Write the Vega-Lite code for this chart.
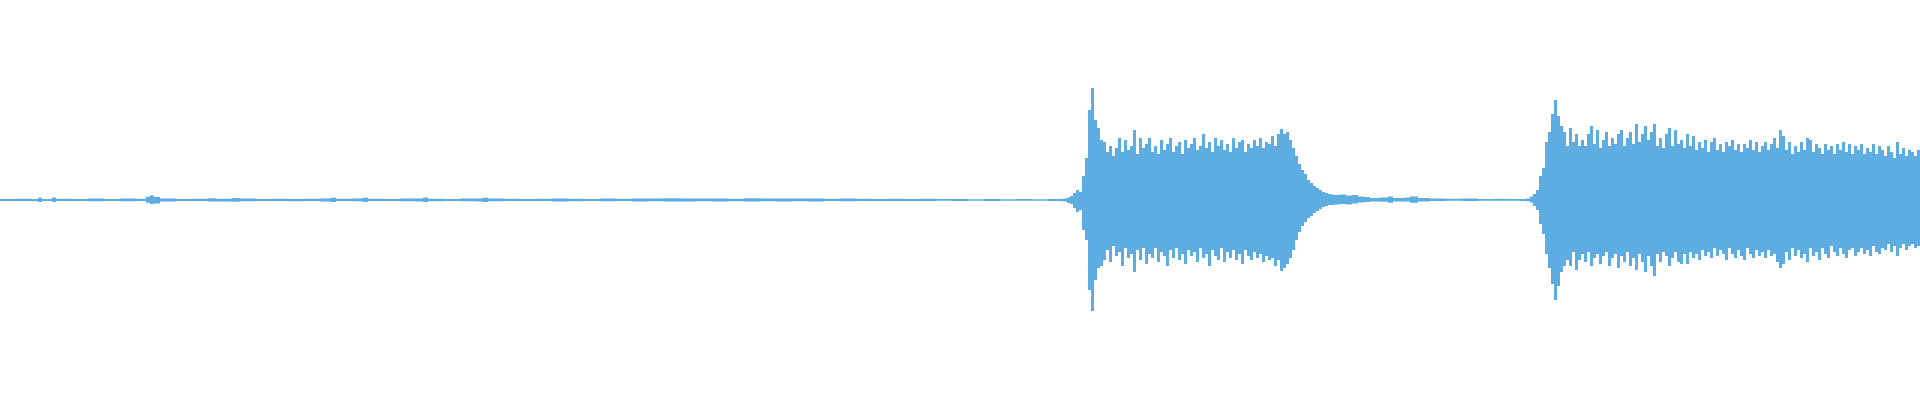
{
  "$schema": "https://vega.github.io/schema/vega-lite/v6.json",
  "autosize": {"type": "fit", "contains": "padding"},
  "width": 1920,
  "height": 400,
  "padding": 0,
  "background": "white",
  "config": {"view": {"stroke": null}},
  "data": {"values": [
    {"t":0,"h":0.005,"l":-0.005},{"t":16,"h":0.006,"l":-0.005},{"t":32,"h":0.005,"l":-0.006},{"t":38,"h":0.011,"l":-0.01},{"t":42,"h":0.005,"l":-0.005},{"t":52,"h":0.012,"l":-0.01},{"t":56,"h":0.006,"l":-0.005},{"t":72,"h":0.005,"l":-0.005},{"t":88,"h":0.007,"l":-0.006},{"t":104,"h":0.005,"l":-0.005},{"t":120,"h":0.007,"l":-0.006},{"t":136,"h":0.006,"l":-0.005},{"t":146,"h":0.016,"l":-0.014},{"t":150,"h":0.022,"l":-0.02},{"t":154,"h":0.015,"l":-0.018},{"t":160,"h":0.008,"l":-0.007},{"t":176,"h":0.005,"l":-0.005},{"t":192,"h":0.006,"l":-0.005},{"t":208,"h":0.009,"l":-0.008},{"t":216,"h":0.006,"l":-0.007},{"t":232,"h":0.01,"l":-0.009},{"t":240,"h":0.007,"l":-0.006},{"t":256,"h":0.005,"l":-0.005},{"t":272,"h":0.006,"l":-0.005},{"t":288,"h":0.005,"l":-0.006},{"t":304,"h":0.006,"l":-0.005},{"t":320,"h":0.008,"l":-0.007},{"t":330,"h":0.011,"l":-0.01},{"t":336,"h":0.006,"l":-0.005},{"t":352,"h":0.007,"l":-0.006},{"t":362,"h":0.011,"l":-0.01},{"t":368,"h":0.006,"l":-0.005},{"t":384,"h":0.005,"l":-0.005},{"t":400,"h":0.007,"l":-0.006},{"t":416,"h":0.008,"l":-0.007},{"t":423,"h":0.012,"l":-0.01},{"t":428,"h":0.006,"l":-0.006},{"t":444,"h":0.005,"l":-0.005},{"t":460,"h":0.007,"l":-0.006},{"t":476,"h":0.008,"l":-0.007},{"t":482,"h":0.011,"l":-0.01},{"t":488,"h":0.007,"l":-0.006},{"t":504,"h":0.006,"l":-0.005},{"t":520,"h":0.005,"l":-0.005},{"t":536,"h":0.006,"l":-0.005},{"t":552,"h":0.008,"l":-0.007},{"t":568,"h":0.006,"l":-0.006},{"t":584,"h":0.005,"l":-0.005},{"t":600,"h":0.007,"l":-0.006},{"t":616,"h":0.006,"l":-0.005},{"t":632,"h":0.008,"l":-0.007},{"t":648,"h":0.007,"l":-0.006},{"t":664,"h":0.009,"l":-0.007},{"t":680,"h":0.008,"l":-0.007},{"t":696,"h":0.007,"l":-0.006},{"t":712,"h":0.008,"l":-0.007},{"t":728,"h":0.006,"l":-0.006},{"t":744,"h":0.009,"l":-0.008},{"t":760,"h":0.007,"l":-0.006},{"t":776,"h":0.008,"l":-0.007},{"t":792,"h":0.007,"l":-0.006},{"t":808,"h":0.008,"l":-0.007},{"t":824,"h":0.006,"l":-0.005},{"t":840,"h":0.007,"l":-0.006},{"t":856,"h":0.006,"l":-0.005},{"t":872,"h":0.005,"l":-0.005},{"t":888,"h":0.006,"l":-0.005},{"t":904,"h":0.005,"l":-0.005},{"t":920,"h":0.006,"l":-0.005},{"t":936,"h":0.005,"l":-0.004},{"t":952,"h":0.005,"l":-0.005},{"t":968,"h":0.004,"l":-0.004},{"t":984,"h":0.005,"l":-0.005},{"t":1000,"h":0.004,"l":-0.004},{"t":1016,"h":0.005,"l":-0.004},{"t":1032,"h":0.004,"l":-0.004},{"t":1048,"h":0.005,"l":-0.005},{"t":1060,"h":0.006,"l":-0.006},
    {"t":1064,"h":0.008,"l":-0.007},{"t":1067,"h":0.012,"l":-0.015},{"t":1070,"h":0.02,"l":-0.02},{"t":1073,"h":0.035,"l":-0.04},{"t":1076,"h":0.05,"l":-0.06},{"t":1079,"h":0.04,"l":-0.05},{"t":1082,"h":0.12,"l":-0.15},{"t":1085,"h":0.21,"l":-0.2},{"t":1088,"h":0.45,"l":-0.45},{"t":1091,"h":0.56,"l":-0.555},{"t":1094,"h":0.4,"l":-0.4},{"t":1097,"h":0.36,"l":-0.34},{"t":1100,"h":0.3,"l":-0.33},
    {"t":1103,"h":0.29,"l":-0.3},{"t":1106,"h":0.24,"l":-0.25},{"t":1109,"h":0.27,"l":-0.31},{"t":1112,"h":0.22,"l":-0.23},{"t":1115,"h":0.26,"l":-0.28},{"t":1118,"h":0.31,"l":-0.26},{"t":1121,"h":0.24,"l":-0.33},{"t":1124,"h":0.3,"l":-0.24},{"t":1127,"h":0.25,"l":-0.29},{"t":1130,"h":0.27,"l":-0.27},{"t":1133,"h":0.35,"l":-0.36},{"t":1136,"h":0.23,"l":-0.25},{"t":1139,"h":0.31,"l":-0.3},{"t":1142,"h":0.26,"l":-0.24},{"t":1145,"h":0.28,"l":-0.32},{"t":1148,"h":0.31,"l":-0.27},{"t":1151,"h":0.24,"l":-0.29},{"t":1154,"h":0.27,"l":-0.24},{"t":1157,"h":0.23,"l":-0.31},{"t":1160,"h":0.3,"l":-0.26},{"t":1163,"h":0.25,"l":-0.28},{"t":1166,"h":0.28,"l":-0.33},{"t":1169,"h":0.31,"l":-0.25},{"t":1172,"h":0.24,"l":-0.29},{"t":1175,"h":0.27,"l":-0.24},{"t":1178,"h":0.29,"l":-0.3},{"t":1181,"h":0.23,"l":-0.27},{"t":1184,"h":0.3,"l":-0.32},{"t":1187,"h":0.26,"l":-0.25},{"t":1190,"h":0.28,"l":-0.28},{"t":1193,"h":0.31,"l":-0.26},{"t":1196,"h":0.25,"l":-0.31},{"t":1199,"h":0.27,"l":-0.24},{"t":1202,"h":0.33,"l":-0.29},{"t":1205,"h":0.26,"l":-0.27},{"t":1208,"h":0.29,"l":-0.33},{"t":1211,"h":0.24,"l":-0.25},{"t":1214,"h":0.31,"l":-0.28},{"t":1217,"h":0.27,"l":-0.3},{"t":1220,"h":0.3,"l":-0.24},{"t":1223,"h":0.25,"l":-0.31},{"t":1226,"h":0.28,"l":-0.26},{"t":1229,"h":0.24,"l":-0.29},{"t":1232,"h":0.31,"l":-0.25},{"t":1235,"h":0.26,"l":-0.3},{"t":1238,"h":0.29,"l":-0.27},{"t":1241,"h":0.3,"l":-0.32},{"t":1244,"h":0.24,"l":-0.25},{"t":1247,"h":0.28,"l":-0.28},{"t":1250,"h":0.26,"l":-0.3},{"t":1253,"h":0.3,"l":-0.26},{"t":1256,"h":0.27,"l":-0.29},{"t":1259,"h":0.31,"l":-0.27},{"t":1262,"h":0.26,"l":-0.31},{"t":1265,"h":0.29,"l":-0.28},{"t":1268,"h":0.28,"l":-0.3},{"t":1271,"h":0.32,"l":-0.29},{"t":1274,"h":0.27,"l":-0.33},{"t":1277,"h":0.33,"l":-0.3},
    {"t":1280,"h":0.355,"l":-0.355},{"t":1283,"h":0.33,"l":-0.34},{"t":1286,"h":0.34,"l":-0.32},{"t":1289,"h":0.3,"l":-0.29},{"t":1292,"h":0.26,"l":-0.25},{"t":1295,"h":0.22,"l":-0.2},{"t":1298,"h":0.18,"l":-0.16},{"t":1301,"h":0.15,"l":-0.13},{"t":1304,"h":0.13,"l":-0.11},{"t":1307,"h":0.1,"l":-0.09},{"t":1310,"h":0.085,"l":-0.08},{"t":1313,"h":0.07,"l":-0.065},{"t":1316,"h":0.06,"l":-0.055},{"t":1319,"h":0.05,"l":-0.045},{"t":1322,"h":0.04,"l":-0.035},{"t":1325,"h":0.035,"l":-0.03},{"t":1328,"h":0.03,"l":-0.025},{"t":1331,"h":0.028,"l":-0.025},{"t":1334,"h":0.025,"l":-0.022},{"t":1340,"h":0.028,"l":-0.02},{"t":1346,"h":0.022,"l":-0.022},{"t":1352,"h":0.025,"l":-0.018},{"t":1358,"h":0.017,"l":-0.012},{"t":1364,"h":0.015,"l":-0.01},{"t":1370,"h":0.01,"l":-0.008},{"t":1380,"h":0.012,"l":-0.009},{"t":1388,"h":0.018,"l":-0.014},{"t":1393,"h":0.01,"l":-0.008},{"t":1405,"h":0.012,"l":-0.008},{"t":1410,"h":0.018,"l":-0.014},{"t":1418,"h":0.01,"l":-0.008},{"t":1430,"h":0.007,"l":-0.005},{"t":1446,"h":0.006,"l":-0.004},{"t":1462,"h":0.007,"l":-0.005},{"t":1478,"h":0.005,"l":-0.004},{"t":1494,"h":0.006,"l":-0.004},{"t":1510,"h":0.005,"l":-0.004},{"t":1520,"h":0.005,"l":-0.005},{"t":1526,"h":0.008,"l":-0.006},
    {"t":1530,"h":0.017,"l":-0.012},{"t":1533,"h":0.03,"l":-0.03},{"t":1536,"h":0.05,"l":-0.05},{"t":1539,"h":0.12,"l":-0.12},{"t":1542,"h":0.16,"l":-0.17},{"t":1545,"h":0.29,"l":-0.27},{"t":1548,"h":0.34,"l":-0.34},{"t":1551,"h":0.43,"l":-0.42},{"t":1554,"h":0.5,"l":-0.5},{"t":1557,"h":0.42,"l":-0.43},{"t":1560,"h":0.37,"l":-0.36},{"t":1563,"h":0.34,"l":-0.33},{"t":1566,"h":0.27,"l":-0.3},{"t":1569,"h":0.36,"l":-0.33},{"t":1572,"h":0.29,"l":-0.26},{"t":1575,"h":0.33,"l":-0.35},{"t":1578,"h":0.27,"l":-0.3},
    {"t":1581,"h":0.3,"l":-0.27},{"t":1584,"h":0.27,"l":-0.31},{"t":1587,"h":0.33,"l":-0.26},{"t":1590,"h":0.37,"l":-0.33},{"t":1593,"h":0.28,"l":-0.29},{"t":1596,"h":0.35,"l":-0.27},{"t":1599,"h":0.26,"l":-0.32},{"t":1602,"h":0.3,"l":-0.28},{"t":1605,"h":0.34,"l":-0.26},{"t":1608,"h":0.27,"l":-0.33},{"t":1611,"h":0.31,"l":-0.29},{"t":1614,"h":0.28,"l":-0.27},{"t":1617,"h":0.33,"l":-0.34},{"t":1620,"h":0.35,"l":-0.28},{"t":1623,"h":0.27,"l":-0.31},{"t":1626,"h":0.31,"l":-0.26},{"t":1629,"h":0.34,"l":-0.33},{"t":1632,"h":0.28,"l":-0.29},{"t":1635,"h":0.38,"l":-0.35},{"t":1638,"h":0.29,"l":-0.27},{"t":1641,"h":0.33,"l":-0.31},{"t":1644,"h":0.37,"l":-0.36},{"t":1647,"h":0.3,"l":-0.28},{"t":1650,"h":0.34,"l":-0.33},{"t":1653,"h":0.38,"l":-0.38},{"t":1656,"h":0.27,"l":-0.27},{"t":1659,"h":0.31,"l":-0.31},{"t":1662,"h":0.26,"l":-0.26},{"t":1665,"h":0.33,"l":-0.28},{"t":1668,"h":0.36,"l":-0.33},{"t":1671,"h":0.27,"l":-0.29},{"t":1674,"h":0.35,"l":-0.26},{"t":1677,"h":0.28,"l":-0.31},{"t":1680,"h":0.3,"l":-0.32},{"t":1683,"h":0.26,"l":-0.27},{"t":1686,"h":0.33,"l":-0.32},{"t":1689,"h":0.27,"l":-0.26},{"t":1692,"h":0.32,"l":-0.29},{"t":1695,"h":0.25,"l":-0.27},{"t":1698,"h":0.29,"l":-0.3},{"t":1701,"h":0.26,"l":-0.25},{"t":1704,"h":0.3,"l":-0.28},{"t":1707,"h":0.24,"l":-0.26},{"t":1710,"h":0.29,"l":-0.29},{"t":1713,"h":0.31,"l":-0.24},{"t":1716,"h":0.25,"l":-0.28},{"t":1719,"h":0.28,"l":-0.25},{"t":1722,"h":0.24,"l":-0.27},{"t":1725,"h":0.29,"l":-0.3},{"t":1728,"h":0.27,"l":-0.24},{"t":1731,"h":0.3,"l":-0.27},{"t":1734,"h":0.25,"l":-0.29},{"t":1737,"h":0.28,"l":-0.25},{"t":1740,"h":0.24,"l":-0.28},{"t":1743,"h":0.28,"l":-0.3},{"t":1746,"h":0.26,"l":-0.24},{"t":1749,"h":0.3,"l":-0.27},{"t":1752,"h":0.25,"l":-0.29},{"t":1755,"h":0.29,"l":-0.25},{"t":1758,"h":0.24,"l":-0.28},{"t":1761,"h":0.27,"l":-0.26},{"t":1764,"h":0.29,"l":-0.29},{"t":1767,"h":0.25,"l":-0.25},{"t":1770,"h":0.28,"l":-0.28},{"t":1773,"h":0.31,"l":-0.27},{"t":1776,"h":0.26,"l":-0.31},{"t":1779,"h":0.35,"l":-0.34},{"t":1782,"h":0.32,"l":-0.32},{"t":1785,"h":0.25,"l":-0.26},{"t":1788,"h":0.29,"l":-0.3},{"t":1791,"h":0.23,"l":-0.24},{"t":1794,"h":0.27,"l":-0.28},{"t":1797,"h":0.24,"l":-0.25},{"t":1800,"h":0.29,"l":-0.29},{"t":1803,"h":0.25,"l":-0.27},{"t":1806,"h":0.31,"l":-0.31},{"t":1809,"h":0.3,"l":-0.24},{"t":1812,"h":0.24,"l":-0.28},{"t":1815,"h":0.28,"l":-0.26},{"t":1818,"h":0.26,"l":-0.3},{"t":1821,"h":0.23,"l":-0.24},{"t":1824,"h":0.28,"l":-0.27},{"t":1827,"h":0.25,"l":-0.29},{"t":1830,"h":0.27,"l":-0.23},{"t":1833,"h":0.23,"l":-0.26},{"t":1836,"h":0.28,"l":-0.28},{"t":1839,"h":0.25,"l":-0.24},{"t":1842,"h":0.29,"l":-0.27},{"t":1845,"h":0.24,"l":-0.29},{"t":1848,"h":0.28,"l":-0.25},{"t":1851,"h":0.23,"l":-0.24},{"t":1854,"h":0.27,"l":-0.28},{"t":1857,"h":0.25,"l":-0.26},{"t":1860,"h":0.28,"l":-0.24},{"t":1863,"h":0.23,"l":-0.27},{"t":1866,"h":0.26,"l":-0.25},{"t":1869,"h":0.24,"l":-0.28},{"t":1872,"h":0.28,"l":-0.23},{"t":1875,"h":0.23,"l":-0.26},{"t":1878,"h":0.27,"l":-0.27},{"t":1881,"h":0.25,"l":-0.24},{"t":1884,"h":0.22,"l":-0.25},{"t":1887,"h":0.27,"l":-0.22},{"t":1890,"h":0.24,"l":-0.26},{"t":1893,"h":0.21,"l":-0.23},{"t":1896,"h":0.29,"l":-0.28},{"t":1899,"h":0.23,"l":-0.24},{"t":1902,"h":0.26,"l":-0.22},{"t":1905,"h":0.22,"l":-0.25},{"t":1908,"h":0.25,"l":-0.23},{"t":1911,"h":0.24,"l":-0.22},{"t":1914,"h":0.22,"l":-0.24},{"t":1917,"h":0.25,"l":-0.23},{"t":1920,"h":0.23,"l":-0.22}
  ]},
  "mark": {"type": "area", "interpolate": "step-after", "color": "#5DADE2", "opacity": 1},
  "encoding": {
    "x": {"field": "t", "type": "quantitative", "scale": {"domain": [0, 1920], "nice": false, "zero": false}, "axis": null},
    "y": {"field": "h", "type": "quantitative", "scale": {"domain": [-1, 1], "nice": false}, "axis": null},
    "y2": {"field": "l"}
  }
}
